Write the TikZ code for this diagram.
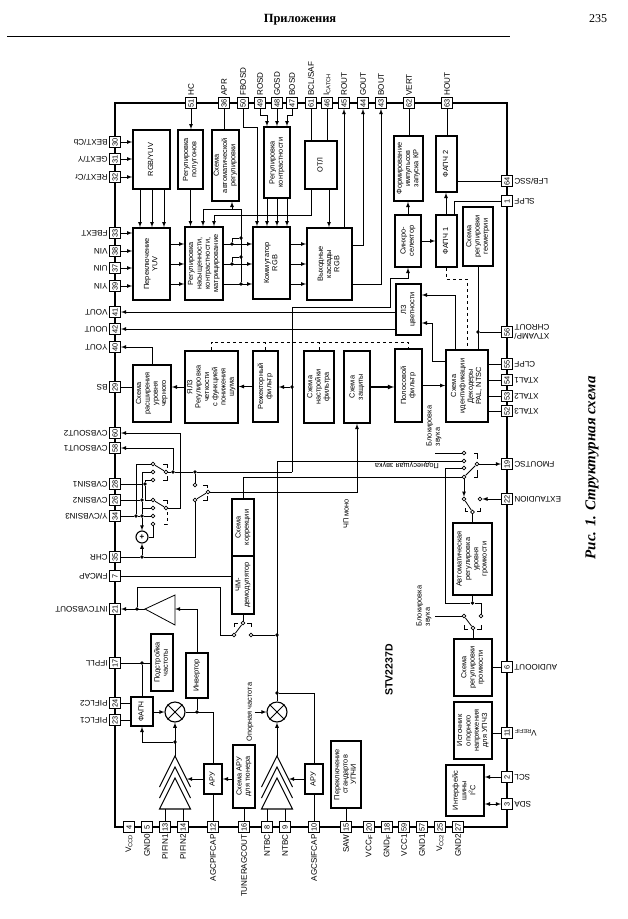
\documentclass[tikz,border=0pt]{standalone}
\usepackage{fontspec}
\setmainfont{Liberation Serif}
\setsansfont{Liberation Sans}
\newcommand{\vtxt}[1]{\rotatebox{90}{\begin{tabular}{@{}c@{}}#1\end{tabular}}}
\tikzset{
  blk/.style={draw,fill=white,line width=1.6pt,inner sep=0pt,font=\sffamily\fontsize{7.4}{8.3}\selectfont},
  lab/.style={inner sep=1pt,font=\sffamily\fontsize{8.1}{8.8}\selectfont},
  pad/.style={draw,fill=white,line width=1pt,inner sep=0pt,minimum width=11pt,minimum height=11pt,
    font=\sffamily\fontsize{7.4}{8}\selectfont,name=p#1,node contents={\rotatebox{90}{#1}}},
  upl/.style={label={[lab,rotate=90,anchor=west]above:#1}},
  dnl/.style={label={[lab,rotate=90,anchor=east]below:#1}},
  lfl/.style={label={[lab,rotate=180,anchor=west]left:#1}},
  rtl/.style={label={[lab,rotate=180,anchor=east,align=left]right:#1}},
  jn/.style={circle,inner sep=0pt,minimum size=3.8pt,fill,name=#1},
  ct/.style={circle,draw,fill=white,inner sep=0pt,minimum size=3.8pt,name=#1},
  mixr/.style={circle,draw,fill=white,line width=1.1pt,minimum size=20pt,inner sep=0pt}
}

\begin{document}
\begin{tikzpicture}[x=1pt,y=-1pt,>=latex,line width=.8pt]
  \useasboundingbox [fill=white] (0,0) rectangle (627,919);

  % page head and caption
  \node (head) at (300,20) {\fontsize{12.5}{14}\selectfont\bfseries Приложения};
  \node (folio) at (598,19) {\fontsize{12}{14}\selectfont 235};
  \draw [line width=1pt] (7,36.5) -- (510,36.5);
  \node [rotate=90] (capt) at (592,468) {\fontsize{15}{17}\selectfont\bfseries\itshape Рис. 1. Структурная схема};

  % chip outline
  \draw [line width=1.8pt] (115,103) rectangle (507,827);
  \node [rotate=90,font=\sffamily\bfseries\fontsize{10.5}{12}\selectfont] (chipname) at (389,670) {STV2237D};

  % top row of pads
  \node at (191,103) [pad=51,upl=HC];
  \node at (224,103) [pad=36,upl=APR];
  \node at (243,103) [pad=50,upl=FBOSD];
  \node at (260,103) [pad=49,upl=ROSD];
  \node at (277,103) [pad=48,upl=GOSD];
  \node at (292,103) [pad=47,upl=BOSD];
  \node at (311,103) [pad=61,upl=BCL/SAF];
  \node at (327,103) [pad=46,upl={I\textsubscript{CATCH}}];
  \node at (344,103) [pad=45,upl=ROUT];
  \node at (363,103) [pad=44,upl=GOUT];
  \node at (381,103) [pad=43,upl=BOUT];
  \node at (409,103) [pad=62,upl=VERT];
  \node at (447,103) [pad=63,upl=HOUT];

  % left column
  \node at (115,142) [pad=30,lfl=BEXT/Cb];
  \node at (115,159) [pad=31,lfl=GEXT/Y];
  \node at (115,177) [pad=32,lfl=REXT/Cr];
  \node at (115,233) [pad=33,lfl=FBEXT];
  \node at (115,251) [pad=38,lfl=VIN];
  \node at (115,268) [pad=37,lfl=UIN];
  \node at (115,286) [pad=39,lfl=YIN];
  \node at (115,312) [pad=41,lfl=VOUT];
  \node at (115,329) [pad=42,lfl=UOUT];
  \node at (115,347) [pad=40,lfl=YOUT];
  \node at (115,387) [pad=29,lfl=BS];
  \node at (115,433) [pad=60,lfl=CVBSOUT2];
  \node at (115,448) [pad=58,lfl=CVBSOUT1];
  \node at (115,484) [pad=28,lfl=CVBSIN1];
  \node at (115,500) [pad=26,lfl=CVBSIN2];
  \node at (115,516) [pad=34,lfl=Y/CVBSIN3];
  \node at (115,557) [pad=35,lfl=CHR];
  \node at (115,576) [pad=7,lfl=FMCAP];
  \node at (115,609) [pad=21,lfl=INTCVBSOUT];
  \node at (115,663) [pad=17,lfl=IFPLL];
  \node at (115,703) [pad=24,lfl=PIFLC2];
  \node at (115,720) [pad=23,lfl=PIFLC1];

  % bottom row
  \node at (129,827) [pad=4,dnl={V\textsubscript{CCD}}];
  \node at (147,827) [pad=5,dnl=GND0];
  \node at (165,827) [pad=13,dnl=PIFIN1];
  \node at (183,827) [pad=14,dnl=PIFIN2];
  \node at (213,827) [pad=12,dnl=AGCPIFCAP];
  \node at (244,827) [pad=16,dnl=TUNERAGCOUT];
  \node at (267,827) [pad=8,dnl=NTBC];
  \node at (285,827) [pad=9,dnl=NTBC];
  \node at (314,827) [pad=10,dnl=AGCSIFCAP];
  \node at (346,827) [pad=15,dnl=SAW];
  \node at (369,827) [pad=20,dnl={VCC\textsubscript{IF}}];
  \node at (387,827) [pad=18,dnl={GND\textsubscript{IF}}];
  \node at (404,827) [pad=59,dnl=VCC1];
  \node at (422,827) [pad=57,dnl=GND1];
  \node at (440,827) [pad=25,dnl={V\textsubscript{CC2}}];
  \node at (458,827) [pad=27,dnl=GND2];

  % right column
  \node at (507,181) [pad=64,rtl=LFB/SSC];
  \node at (507,201) [pad=1,rtl=SLPF];
  \node at (507,332) [pad=56,rtl={XTVAMP/\\CHROUT}];
  \node at (507,364) [pad=55,rtl=CLPF];
  \node at (507,380) [pad=54,rtl=XTAL1];
  \node at (507,396) [pad=53,rtl=XTAL2];
  \node at (507,411) [pad=52,rtl=XTAL3];
  \node at (507,464) [pad=19,rtl=FMOUTSC];
  \node at (507,499) [pad=22,rtl=EXTAUDION];
  \node at (507,667) [pad=6,rtl=AUDIOOUT];
  \node at (507,733) [pad=11,rtl={V\textsubscript{REFIF}}];
  \node at (507,777) [pad=2,rtl=SCL];
  \node at (507,804) [pad=3,rtl=SDA];

  % video path blocks
  \node [blk,minimum width=37,minimum height=59] (rgbyuv) at (151.5,159.5) {\vtxt{RGB/YUV}};
  \node [blk,minimum width=25,minimum height=59] (polut) at (190.5,159.5) {\vtxt{Регулировка\\полутонов}};
  \node [blk,minimum width=27,minimum height=71] (autoreg) at (225.5,165.5) {\vtxt{Схема\\автоматической\\регулировки}};
  \node [blk,minimum width=26,minimum height=71] (contr) at (277,162.5) {\vtxt{Регулировка\\контрастности}};
  \node [blk,minimum width=32,minimum height=48] (otl) at (321,165) {\vtxt{ОТЛ}};
  \node [blk,minimum width=37,minimum height=72] (yuvsw) at (151.5,264) {\vtxt{Переключение\\YUV}};
  \node [blk,minimum width=38,minimum height=73] (satur) at (204,263.5) {\vtxt{Регулировка\\насыщенности,\\контрастности,\\матрицирование}};
  \node [blk,minimum width=37,minimum height=72] (comm) at (271.5,263) {\vtxt{Коммутатор\\RGB}};
  \node [blk,minimum width=45,minimum height=72] (outrgb) at (329.5,264) {\vtxt{Выходные\\каскады\\RGB}};
  \node [blk,minimum width=29,minimum height=65] (vpulse) at (408.5,168.5) {\vtxt{Формирование\\импульсов\\запуска КР}};
  \node [blk,minimum width=21,minimum height=56] (pll2) at (446.5,164) {\vtxt{ФАПЧ 2}};
  \node [blk,minimum width=26,minimum height=52] (sync) at (408,241) {\vtxt{Синхро-\\селектор}};
  \node [blk,minimum width=21,minimum height=52] (pll1) at (446.5,241) {\vtxt{ФАПЧ 1}};
  \node [blk,minimum width=30,minimum height=59] (geom) at (478,236.5) {\vtxt{Схема\\регулировки\\геометрии}};
  \node [blk,minimum width=25,minimum height=51] (chroma) at (408.5,309.5) {\vtxt{ЛЗ\\цветности}};
  \node [blk,minimum width=42,minimum height=72] (ident) at (467,386) {\vtxt{Схема\\идентификации\\Декодеры\\PAL, NTSC}};
  \node [blk,minimum width=27,minimum height=73] (band) at (408.5,385.5) {\vtxt{Полосовой\\фильтр}};
  \node [blk,minimum width=26,minimum height=72] (protect) at (357,387) {\vtxt{Схема\\защиты}};
  \node [blk,minimum width=30,minimum height=72] (ftune) at (319,387) {\vtxt{Схема\\настройки\\фильтра}};
  \node [blk,minimum width=25,minimum height=71] (notch) at (265.5,386.5) {\vtxt{Режекторный\\фильтр}};
  \node [blk,minimum width=53,minimum height=72] (luma) at (211.5,387) {\vtxt{ЯЛЗ\\Регулировка\\четкости\\с функцией\\понижения\\шума}};
  \node [blk,minimum width=38,minimum height=57] (black) at (152,393.5) {\vtxt{Схема\\расширения\\уровня\\черного}};

  % sound and IF blocks
  \node [blk,minimum width=22,minimum height=57] (corr) at (243,527.5) {\vtxt{Схема\\коррекции}};
  \node [blk,minimum width=22,minimum height=58] (fmdem) at (243,585) {\vtxt{ЧМ-\\демодулятор}};
  \node [blk,minimum width=22,minimum height=57] (aftune) at (162,662.5) {\vtxt{Подстройка\\частоты}};
  \node [blk,minimum width=22,minimum height=45] (inv) at (197,675.5) {\vtxt{Инвертор}};
  \node [blk,minimum width=22,minimum height=29] (pifpll) at (142,711.5) {\vtxt{ФАПЧ}};
  \node [blk,minimum width=18,minimum height=30] (agca) at (213,779) {\vtxt{АРУ}};
  \node [blk,minimum width=22,minimum height=63] (tagc) at (244,776.5) {\vtxt{Схема АРУ\\для тюнера}};
  \node [blk,minimum width=18,minimum height=30] (agcb) at (314,779) {\vtxt{АРУ}};
  \node [blk,minimum width=30,minimum height=67] (stdsw) at (346,774.5) {\vtxt{Переключение\\стандартов\\УПЧИ}};
  \node [blk,minimum width=39,minimum height=72] (alc) at (472.5,559) {\vtxt{Автоматическая\\регулировка\\уровня\\громкости}};
  \node [blk,minimum width=38,minimum height=57] (volume) at (473,667.5) {\vtxt{Схема\\регулировки\\громкости}};
  \node [blk,minimum width=38,minimum height=57] (vref) at (473,730.5) {\vtxt{Источник\\опорного\\напряжения\\для УПЧЗ}};
  \node [blk,minimum width=38,minimum height=51] (iic) at (465,790.5) {\vtxt{Интерфейс\\шины\\I\textsuperscript{2}C}};

  % amplifiers and mixers
  \coordinate (tra) at (145,609);
  \coordinate (trb) at (175,609);
  \draw [fill=white] (tra) -- (175,595) -- (175,625) -- cycle;
  \draw [fill=white,line width=1.1pt] (159.5,787) -- (175,756) -- (190.5,787);
  \draw [fill=white,line width=1.1pt] (159.5,798) -- (175,767) -- (190.5,798);
  \draw [fill=white,line width=1.1pt] (159.5,809) -- (175,778) -- (190.5,809) -- cycle;
  \draw [fill=white,line width=1.1pt] (261.5,787) -- (277,756) -- (292.5,787);
  \draw [fill=white,line width=1.1pt] (261.5,798) -- (277,767) -- (292.5,798);
  \draw [fill=white,line width=1.1pt] (261.5,809) -- (277,778) -- (292.5,809) -- cycle;
  \coordinate (ampa) at (175,756);
  \coordinate (ampb) at (277,756);
  \coordinate (basea) at (175,809);
  \coordinate (baseb) at (277,809);
  \coordinate (sidea) at (187,779);
  \coordinate (sideb) at (289,779);
  \node [mixr] (mixa) at (175,712) {};
  \node [mixr] (mixb) at (277,712) {};
  \draw (mixa.north west) -- (mixa.south east);
  \draw (mixa.north east) -- (mixa.south west);
  \draw (mixb.north west) -- (mixb.south east);
  \draw (mixb.north east) -- (mixb.south west);
  \node [circle,draw,fill=white,line width=1.1pt,minimum size=12pt,inner sep=0pt,font=\sffamily\bfseries\fontsize{8}{8}\selectfont] (summ) at (142,537) {+};

  % junctions
  \node [jn=ja] at (232,244) {};
  \node [jn=jb] at (232,264) {};
  \node [jn=jc] at (241,238) {};
  \node [jn=jd] at (241,257) {};
  \node [jn=je] at (241,284) {};
  \node [jn=jy] at (292,387) {};
  \node [jn=jg] at (478,332) {};
  \node [jn=jsa] at (173,472) {};
  \node [jn=jsb] at (195,472) {};
  \node [jn=jin] at (145,484) {};
  \node [jn=jio] at (142,500) {};
  \node [jn=jip] at (136,516) {};
  \node [jn=jiq] at (142,516) {};
  \node [jn=jch] at (142,557) {};
  \node [jn=jt] at (137,609) {};
  \node [jn=jaf] at (142,663) {};
  \node [jn=jinv] at (197,712) {};
  \node [jn=jf] at (175,742) {};
  \node [jn=jma] at (277,635) {};
  \node [jn=jmb] at (277,693) {};
  \node [jn=jv] at (472.5,603) {};
  \coordinate (nt) at (292,472);

  % switch contacts
  \node [ct=aa] at (153,464) {};
  \node [ct=ab] at (153,472) {};
  \node [ct=ac] at (153,480) {};
  \node [ct=ax] at (166,472) {};
  \node [ct=ba] at (153,500) {};
  \node [ct=bb] at (153,508) {};
  \node [ct=bc] at (153,516) {};
  \node [ct=bd] at (153,524) {};
  \node [ct=bx] at (166,508) {};
  \node [ct=ca] at (195,485) {};
  \node [ct=cb] at (195,500) {};
  \node [ct=cx] at (208,492) {};
  \node [ct=da] at (464,453) {};
  \node [ct=db] at (464,461) {};
  \node [ct=dc] at (464,468) {};
  \node [ct=dd] at (464,477) {};
  \node [ct=dx] at (477,464) {};
  \node [ct=ea] at (464,499) {};
  \node [ct=eb] at (480,499) {};
  \node [ct=ex] at (472.5,512) {};
  \node [ct=fa] at (464,616) {};
  \node [ct=fb] at (481,616) {};
  \node [ct=fx] at (473,628) {};
  \node [ct=ga] at (234,635) {};
  \node [ct=gb] at (251,635) {};
  \node [ct=gx] at (243,623) {};

  % free text
  \node [lab,rotate=90,font=\sffamily\fontsize{7.4}{8.3}\selectfont] (reflab) at (250,712) {Опорная частота};
  \node [lab,rotate=90,font=\sffamily\fontsize{7.4}{8.3}\selectfont] (fmlab) at (346,514) {ЧП моно};
  \node [lab,rotate=180,font=\sffamily\fontsize{7.4}{8.3}\selectfont] (sublab) at (407,465) {Поднесущая звука};
  \node [lab,rotate=90,align=left,font=\sffamily\fontsize{7.4}{8.3}\selectfont] (muta) at (434,426) {Блокировка\\звука};
  \node [lab,rotate=90,align=left,font=\sffamily\fontsize{7.4}{8.3}\selectfont] (mutb) at (424,606) {Блокировка\\звука};
  \coordinate (mtx) at (435,453);
  \coordinate (mty) at (435,616);

  % inputs from the top row
  \draw [->] (p51) -- (p51 |- polut.north);
  \draw (p36) -- (p36 |- autoreg.north);
  \draw [->] (p50) |- (257,127) -- (257,0 |- comm.north);
  \draw [->] (p49) |- (267,115) -- (267,0 |- contr.north);
  \draw [->] (p48) -- (p48 |- contr.north);
  \draw [->] (p47) |- (287,115) -- (287,0 |- contr.north);
  \draw [->] (267,0 |- contr.south) -- (267,0 |- comm.north);
  \draw [->] (277,0 |- contr.south) -- (277,0 |- comm.north);
  \draw [->] (287,0 |- contr.south) -- (287,0 |- comm.north);
  \draw (p61) -- (p61 |- otl.north);
  \draw (p46) -- (p46 |- otl.north);
  \draw [->] (329,0 |- otl.south) -- (329,0 |- outrgb.north);
  \draw [->] (p45 |- outrgb.north) -- (p45);
  \draw [->] (outrgb.east |- 0,245) -| (p44);
  \draw [->] (outrgb.east |- 0,284) -| (p43);

  % left inputs
  \draw [->] (p30) -- (rgbyuv.west |- p30);
  \draw [->] (p31) -- (rgbyuv.west |- p31);
  \draw [->] (p32) -- (rgbyuv.west |- p32);
  \draw [->] (p33) -- (yuvsw.west |- p33);
  \draw [->] (p38) -- (yuvsw.west |- p38);
  \draw [->] (p37) -- (yuvsw.west |- p37);
  \draw [->] (p39) -- (yuvsw.west |- p39);
  \draw [->] (140,0 |- rgbyuv.south) -- (140,0 |- yuvsw.north);
  \draw [->] (152,0 |- rgbyuv.south) -- (152,0 |- yuvsw.north);
  \draw [->] (164,0 |- rgbyuv.south) -- (164,0 |- yuvsw.north);
  \draw [->] (polut.south) -- (polut.south |- satur.north);

  % RGB path
  \draw [->] (yuvsw.east |- 0,244) -- (satur.west |- 0,244);
  \draw [->] (yuvsw.east |- 0,264) -- (satur.west |- 0,264);
  \draw [->] (yuvsw.east |- 0,284) -- (satur.west |- 0,284);
  \draw [->] (satur.east |- 0,244) -- (comm.west |- 0,244);
  \draw [->] (satur.east |- 0,264) -- (comm.west |- 0,264);
  \draw [->] (satur.east |- 0,284) -- (comm.west |- 0,284);
  \draw [->] (comm.east |- 0,244) -- (outrgb.west |- 0,244);
  \draw [->] (comm.east |- 0,264) -- (outrgb.west |- 0,264);
  \draw [->] (comm.east |- 0,284) -- (outrgb.west |- 0,284);
  \draw (ja) |- (jc);
  \draw (jb) |- (jd);
  \draw (je) -- (241,209);
  \draw [->] (241,209) -| (203,0 |- satur.north);
  \draw [->] (232,209) -- (232,0 |- autoreg.south);
  \draw [->] (311,0 |- otl.south) |- (214,215) -- (214,0 |- satur.north);

  % sync and geometry
  \draw (p62) -- (p62 |- vpulse.north);
  \draw (p63) -- (p63 |- pll2.north);
  \draw (p64) -- (pll2.east |- p64);
  \draw (p1) -| (454,0 |- pll1.north);
  \draw [->] (446,0 |- pll1.north) -- (446,0 |- pll2.south);
  \draw [->] (sync.north) -- (sync.north |- vpulse.south);
  \draw [->] (sync) -- (pll1);
  \draw [->] (nt) |- (390,307) |- (408,278) -- (sync.south);
  \draw (geom.south) -- (geom.south |- ident.north);
  \draw (p56) -- (jg);

  % outputs on the left
  \draw [->] (chroma.west |- p41) -- (p41);
  \draw [->] (chroma.west |- p42) -- (p42);
  \draw [->] (black.north) |- (p40);
  \draw (p29) -- (black.west |- p29);
  \draw [->] (luma.west) -- (black.east |- luma.west);
  \draw [->] (notch.west) -- (luma.east |- notch.west);
  \draw [->] (jy) -- (notch.east |- jy);
  \draw [->,line width=1.2pt] (protect.east) -- (band.west |- protect.east);
  \draw [->] (band.east) -- (ident.west |- band.east);

  % dashed control lines
  \draw [dashed] (luma.north) |- (band.north |- 0,342) -- (band.north);
  \draw [dashed] (notch.north) -- (notch.north |- 0,342);
  \draw [dashed] (ftune.north) -- (ftune.north |- 0,342);
  \draw [dashed] (pll1.south) |- (467,279) -- (ident.north);

  % chroma delay feeds
  \draw [->] (455,0 |- ident.north) |- (chroma.east |- 0,295);
  \draw [->] (ident.west |- 0,361) -| (432,323) -- (chroma.east |- 0,323);
  \draw (ident.east |- p55) -- (p55);
  \draw (ident.east |- p54) -- (p54);
  \draw (ident.east |- p53) -- (p53);
  \draw (ident.east |- p52) -- (p52);

  % input selector
  \draw (ax) -- (aa);
  \draw (bx) -- (ba);
  \draw (cx) -- (cb);
  \draw (ax) -- (jsa) -- (jsb) -- (nt);
  \draw [->] (jsa) |- (p58);
  \draw [->] (bx) -| (180,433) -- (p60);
  \draw (p28) -- (jin);
  \draw (jin) |- (ac);
  \draw (jin) |- (ba);
  \draw (p26) -- (jio);
  \draw (jio) |- (ab);
  \draw (jio) |- (bb);
  \draw (jio) -- (jiq);
  \draw (p34) -- (jip) -- (jiq) -- (bc);
  \draw (jip) |- (aa);
  \draw [->] (jiq) -- (summ);
  \draw [->] (jch) -- (summ);
  \draw (bd) |- (summ);
  \draw (p35) -- (jch) -| (cb);
  \draw (ca) -- (jsb);
  \draw [->] (cx) -| (protect.south);
  \draw (corr.north) |- (dd);
  \draw (163,464) -| (167,468);
  \draw (167,476) |- (163,480);
  \draw (163,500) -| (167,504);
  \draw [dashed] (167,512) |- (163,524);
  \draw (203,485) -| (207,488);
  \draw (207,496) |- (203,500);

  % IF strip
  \draw (db) -| (mixb);
  \draw (gb) -- (jma);
  \draw (jmb) -| (agcb);
  \draw (fmdem.south) -- (gx);
  \draw (gx) -- (ga);
  \draw (ga) -| (220,587) -| (jt);
  \draw (234,627) |- (238,623);
  \draw (247,623) -| (251,627);
  \draw [->] (tra) -- (p21);
  \draw (p7) -- (fmdem.west |- p7);
  \draw (jinv) -- (inv.south);
  \draw [->] (inv.north) |- (trb);
  \draw (p24) -- (pifpll.west |- p24);
  \draw (p23) -- (pifpll.west |- p23);
  \draw (p17) -- (aftune.west |- p17);
  \draw (jaf) -- (pifpll.north);
  \draw [->] (pifpll.east |- mixa) -- (mixa);
  \draw (mixa) -| (agca);
  \draw [->] (ampa) -- (mixa);
  \draw [->] (ampb) -- (mixb);
  \draw [->] (jf) -| (pifpll.south);
  \draw [->] (agca) -- (sidea);
  \draw [->] (tagc.west |- agca) -- (agca.east);
  \draw (agca) -- (p12);
  \draw (tagc) -- (p16);
  \draw (p13) -- (p13 |- basea);
  \draw (p14) -- (p14 |- basea);
  \draw (p8) -- (p8 |- baseb);
  \draw (p9) -- (p9 |- baseb);
  \draw [->] (agcb) -- (sideb);
  \draw (agcb) -- (p10);
  \draw (stdsw) -- (p15);
  \draw [->] (reflab) -- (mixb);

  % audio path
  \draw (dx) -- (dd);
  \draw (mtx) -- (da);
  \draw (dc) -| (445,603) -- (jv);
  \draw (jv) -- (jv |- alc.south);
  \draw (jv) -| (fb);
  \draw (mty) -- (fa);
  \draw (fx) -- (fa);
  \draw (fx) -- (fx |- volume.north);
  \draw (ex) -- (ea);
  \draw (ex) -- (ex |- alc.north);
  \draw [->] (dx) -- (p19);
  \draw [->] (p22) -- (eb);
  \draw [->] (dd) -- (ea);
  \draw (474,453) -| (477,459);
  \draw (477,470) |- (474,477);
  \draw (465,508) |- (468,511);
  \draw (477,511) -| (480,508);
  \draw (464,625) |- (468,629);
  \draw (477,629) -| (481,625);
  \draw (volume.east |- p6) -- (p6);
  \draw (vref.east |- p11) -- (p11);
  \draw [->] (p2) -- (iic.east |- p2);
  \draw [<->] (p3) -- (iic.east |- p3);
\end{tikzpicture}
\end{document}
